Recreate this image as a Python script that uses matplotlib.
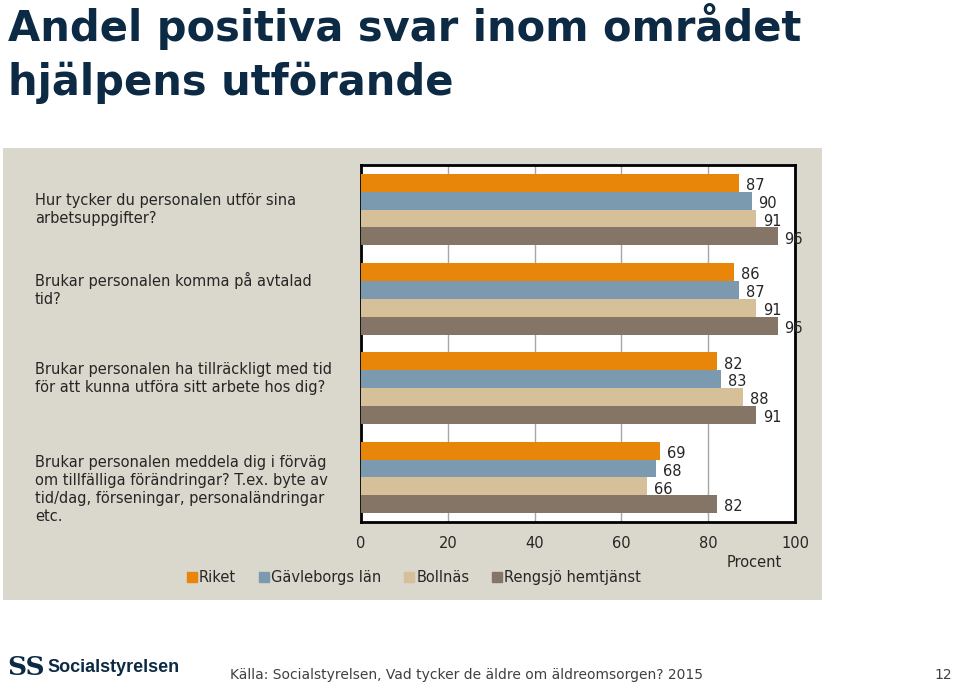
import matplotlib.pyplot as plt
from matplotlib.patches import Rectangle
from matplotlib.lines import Line2D
import matplotlib.transforms as mtransforms
import numpy as np

# data
questions = [
    "Hur tycker du personalen utför sina\narbetsuppgifter?",
    "Brukar personalen komma på avtalad\ntid?",
    "Brukar personalen ha tillräckligt med tid\nför att kunna utföra sitt arbete hos dig?",
    "Brukar personalen meddela dig i förväg\nom tillfälliga förändringar? T.ex. byte av\ntid/dag, förseningar, personaländringar\netc.",
]
series_names = ["Riket", "Gävleborgs län", "Bollnäs", "Rengsjö hemtjänst"]
riket = [87, 86, 82, 69]
gavleborg = [90, 87, 83, 68]
bollnas = [91, 91, 88, 66]
rengsjo = [96, 96, 91, 82]
colors = ["#e8860a", "#7b9aaf", "#d5c09a", "#857566"]
x_ticks = [0, 20, 40, 60, 80, 100]

title_lines = ["Andel positiva svar inom området", "hjälpens utförande"]
source = "Källa: Socialstyrelsen, Vad tycker de äldre om äldreomsorgen? 2015"

# small vertical nudges (points) of the question texts, as in the slide
label_nudge = [0, 7, 7, -9]

fig = plt.figure(figsize=(9.59, 6.88), dpi=100)
fig.patch.set_facecolor("white")

# beige panel behind the chart
fig.patches.append(Rectangle((0.0031, 0.128), 0.854, 0.657, transform=fig.transFigure,
                             facecolor="#dad7cc", edgecolor="none", zorder=-1))

fig.text(0.008, 0.9405, title_lines[0], fontsize=30, fontweight="bold", color="#0c2a44",
         va="baseline", ha="left")
fig.text(0.008, 0.862, title_lines[1], fontsize=30, fontweight="bold", color="#0c2a44",
         va="baseline", ha="left")

ax = fig.add_axes([0.3764, 0.2413, 0.4526, 0.5189], zorder=2)
ax.set_facecolor("white")

all_series = [riket, gavleborg, bollnas, rengsjo]
ypos = np.arange(len(questions))
h = 0.2
for j, vals in enumerate(all_series):
    y = ypos + (j - 1.5) * h
    ax.barh(y, vals, height=h, color=colors[j], zorder=3)
    for yy, v in zip(y, vals):
        ax.annotate(str(v), (v, yy), xytext=(5, -2), textcoords="offset points",
                    ha="left", va="center", fontsize=10.5, color="#262626",
                    annotation_clip=False)

ax.set_xlim(0, 100)
ax.set_ylim(len(questions) - 0.5, -0.5)
ax.set_xticks(x_ticks)
ax.set_xticklabels([str(t) for t in x_ticks], fontsize=10.5, color="#262626")
ax.tick_params(axis="x", length=0, pad=10)
ax.set_yticks([])
ax.xaxis.grid(True, color="#a6a6a6", linewidth=1, zorder=0)
ax.set_axisbelow(True)
for s in ax.spines.values():
    s.set_linewidth(2)
    s.set_color("black")

# question labels on the left
trans = mtransforms.blended_transform_factory(fig.transFigure, ax.transData)
for q, y, dy in zip(questions, ypos, label_nudge):
    t = trans + mtransforms.ScaledTranslation(0, dy / 72, fig.dpi_scale_trans)
    fig.text(0.0365, y, q, transform=t, ha="left", va="center",
             fontsize=10.5, color="#262626", linespacing=1.25)

fig.text(0.787, 0.1817, "Procent", ha="center", va="center", fontsize=10.5, color="#262626")

handles = [Line2D([], [], marker="s", linestyle="none", markersize=7,
                  markerfacecolor=c, markeredgecolor=c) for c in colors]
fig.legend(handles, series_names, loc="center", bbox_to_anchor=(0.432, 0.161), ncol=4,
           frameon=False, fontsize=10.5, handlelength=0.6, handletextpad=0.2,
           columnspacing=1.6, labelcolor="#262626")

# footer
fig.text(0.008, 0.030, "SS", fontsize=19, fontweight="bold", family="DejaVu Serif",
         color="#0c2a44", va="center")
fig.text(0.050, 0.030, "Socialstyrelsen", fontsize=13, fontweight="bold",
         family="Liberation Sans", color="#0c2a44", va="center")
fig.text(0.240, 0.019, source, fontsize=10, color="#404040", va="center")
fig.text(0.993, 0.019, "12", fontsize=10, color="#404040", va="center", ha="right")

fig.savefig("out.png", dpi=100)
